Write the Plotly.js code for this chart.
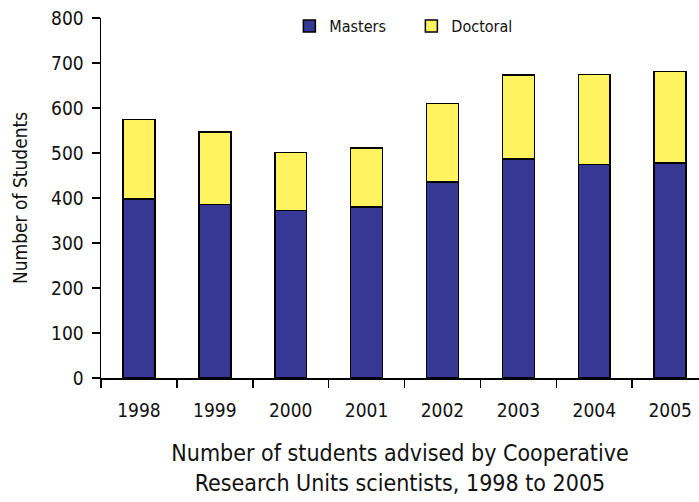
<!DOCTYPE html>
<html>
<head>
<meta charset="utf-8">
<script src="https://cdn.plot.ly/plotly-3.0.1.min.js"></script>
<style>html,body{margin:0;padding:0;background:#fff;}#chart{width:699px;height:502px;}</style>
</head>
<body>
<div id="chart"></div>
<script>
var years = ['1998','1999','2000','2001','2002','2003','2004','2005'];
var masters = [398, 386, 372, 380, 436, 487, 475, 478];
var doctoral = [176, 161, 129, 131, 174, 186, 200, 203];
var yTicks = [0,100,200,300,400,500,600,700,800];

var FONT = '"DejaVu Sans Condensed", "Liberation Sans Narrow", sans-serif';

var traces = [
  {type:'bar', name:'Masters', x:years, y:masters,
   marker:{color:'#363894', line:{color:'#000', width:1.5}}},
  {type:'bar', name:'Doctoral', x:years, y:doctoral,
   marker:{color:'#fff35f', line:{color:'#000', width:1.5}}}
];

var layout = {
  width:699, height:502,
  margin:{l:101, r:0, t:18, b:124},
  paper_bgcolor:'#fff', plot_bgcolor:'#fff',
  barmode:'stack', bargap:0.58,
  font:{family:FONT, color:'#111', size:18},
  showlegend:true,
  legend:{orientation:'h', x:0.315, y:1.025, xanchor:'left', yanchor:'top',
          font:{size:16, family:FONT}, traceorder:'normal', itemwidth:30,
          entrywidth:77, bgcolor:'rgba(0,0,0,0)'},
  xaxis:{type:'category', range:[-0.5, 7.38], tickson:'boundaries',
         ticks:'outside', ticklen:8, tickcolor:'#000', tickwidth:1.5,
         showline:true, linecolor:'#000', linewidth:1.5,
         showgrid:false, zeroline:false,
         tickfont:{size:19, family:FONT}, ticklabelstandoff:15,
         title:{text:'Number of students advised by Cooperative<br>Research Units scientists, 1998 to 2005',
                font:{size:23, family:FONT}, standoff:24}},
  yaxis:{range:[0,800], tickvals:yTicks, ticktext:yTicks.map(String),
         ticks:'outside', ticklen:8, tickcolor:'#000', tickwidth:1.5,
         showline:true, linecolor:'#000', linewidth:1.5,
         showgrid:false, zeroline:false,
         tickfont:{size:19, family:FONT}, ticklabelstandoff:4,
         title:{text:'Number of Students', font:{size:19, family:FONT}, standoff:18}}
};

Plotly.newPlot('chart', traces, layout, {staticPlot:true, displayModeBar:false});
</script>
</body>
</html>
